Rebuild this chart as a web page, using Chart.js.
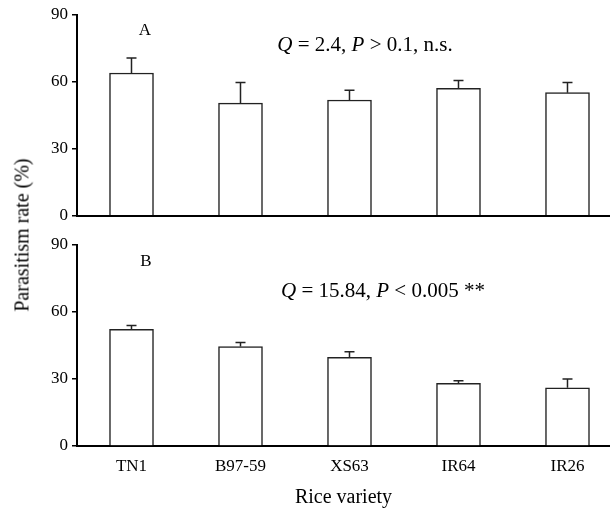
<!DOCTYPE html>
<html lang="en">
<head>
  <meta charset="UTF-8">
  <title>Parasitism rate by rice variety</title>
  <script src="https://cdn.jsdelivr.net/npm/chart.js"></script>
  <style>
    body {
      margin: 0;
      padding: 0;
      background: #fff;
      font-family: 'Liberation Serif', 'DejaVu Serif', serif;
    }
    .figura {
      position: relative;
      width: 610px;
      height: 510px;
      overflow: hidden;
    }
    canvas {
      position: absolute;
      left: 0;
      display: block;
    }
    #panelA { top: 0; }
    #panelB { top: 230px; }
    .titulo-y {
      position: absolute;
      left: 22px;
      top: 235px;
      transform: translate(-50%, -50%) rotate(-90deg);
      white-space: nowrap;
      font-size: 20px;
      color: #000;
    }
  </style>
</head>
<body>
  <div class="figura">
    <canvas id="panelA" width="610" height="230"></canvas>
    <canvas id="panelB" width="610" height="280"></canvas>
    <div class="titulo-y">Parasitism rate (%)</div>
  </div>

  <script>
    // data
    const varieties = ['TN1', 'B97-59', 'XS63', 'IR64', 'IR26'];
    const yTicks = [0, 30, 60, 90];

    const meanA = [64.0, 50.5, 51.9, 57.1, 55.2];
    const errA  = [6.7, 9.2, 4.4, 3.5, 4.6];

    const meanB = [52.2, 44.5, 39.7, 28.1, 26.1];
    const errB  = [1.7, 1.8, 2.5, 1.1, 3.9];

    const statA = [['Q', true], [' = 2.4, ', false], ['P', true], [' > 0.1, n.s.', false]];
    const statB = [['Q', true], [' = 15.84, ', false], ['P', true], [' < 0.005 **', false]];

    const SERIF = "'Liberation Serif', 'DejaVu Serif', serif";
    Chart.defaults.font.family = SERIF;
    Chart.defaults.color = '#000';

    // upper whisker only
    const errorBars = {
      id: 'errorBars',
      afterDatasetsDraw(chart, args, opts) {
        const ctx = chart.ctx;
        const meta = chart.getDatasetMeta(0);
        const y = chart.scales.y;
        ctx.save();
        ctx.strokeStyle = '#222';
        ctx.lineWidth = 1.5;
        meta.data.forEach((bar, i) => {
          const top = y.getPixelForValue(opts.means[i] + opts.errors[i]);
          ctx.beginPath();
          ctx.moveTo(bar.x, bar.y);
          ctx.lineTo(bar.x, top);
          ctx.moveTo(bar.x - 5, top);
          ctx.lineTo(bar.x + 5, top);
          ctx.stroke();
        });
        ctx.restore();
      }
    };

    // panel letter and test statistic
    const notes = {
      id: 'notes',
      afterDraw(chart, args, opts) {
        const ctx = chart.ctx;
        ctx.save();
        ctx.fillStyle = '#000';
        ctx.textBaseline = 'middle';
        ctx.font = '17px ' + SERIF;
        ctx.textAlign = 'center';
        ctx.fillText(opts.letter, opts.letterX, opts.letterY);

        ctx.textAlign = 'left';
        const fontOf = it => (it ? 'italic ' : '') + '21px ' + SERIF;
        let total = 0;
        opts.parts.forEach(([t, it]) => { ctx.font = fontOf(it); total += ctx.measureText(t).width; });
        let x = opts.statX - total / 2;
        opts.parts.forEach(([t, it]) => {
          ctx.font = fontOf(it);
          ctx.fillText(t, x, opts.statY);
          x += ctx.measureText(t).width;
        });
        ctx.restore();
      }
    };

    function makePanel(id, means, errors, showX, noteOpts) {
      return new Chart(document.getElementById(id), {
        type: 'bar',
        data: {
          datasets: [{
            data: means.map((v, i) => ({ x: i, y: v })),
            backgroundColor: '#fff',
            borderColor: '#222',
            borderWidth: 1.5,
            barThickness: 44
          }]
        },
        options: {
          responsive: false,
          animation: false,
          layout: { padding: { top: 15, right: 0, left: 0, bottom: showX ? 0 : 14 } },
          plugins: {
            legend: { display: false },
            tooltip: { enabled: false },
            errorBars: { means: means, errors: errors },
            notes: noteOpts
          },
          scales: {
            x: {
              type: 'linear',
              offset: false,
              min: -0.5,
              max: 4.39,
              afterBuildTicks: s => { s.ticks = varieties.map((v, i) => ({ value: i })); },
              afterFit: s => { s.height = showX ? 64 : 0; },
              grid: { display: false, drawTicks: false },
              border: { display: true, color: '#000', width: 2 },
              ticks: {
                display: showX,
                autoSkip: false,
                maxRotation: 0,
                padding: 10,
                font: { size: 17 },
                callback: v => varieties[v]
              },
              title: {
                display: showX,
                text: 'Rice variety',
                font: { size: 20 },
                padding: { top: 0, bottom: 0 }
              }
            },
            y: {
              min: 0,
              max: 90,
              afterBuildTicks: s => { s.ticks = yTicks.map(v => ({ value: v })); },
              afterFit: s => { s.width = 77; },
              grid: { drawOnChartArea: false, drawTicks: true, tickLength: 5, color: '#000', lineWidth: 1.5 },
              border: { display: true, color: '#000', width: 2 },
              ticks: { padding: 4, font: { size: 17 } }
            }
          }
        },
        plugins: [errorBars, notes]
      });
    }

    makePanel('panelA', meanA, errA, false,
      { letter: 'A', letterX: 145, letterY: 31, parts: statA, statX: 365, statY: 45 });
    makePanel('panelB', meanB, errB, true,
      { letter: 'B', letterX: 146, letterY: 32, parts: statB, statX: 383, statY: 61 });
  </script>
</body>
</html>
